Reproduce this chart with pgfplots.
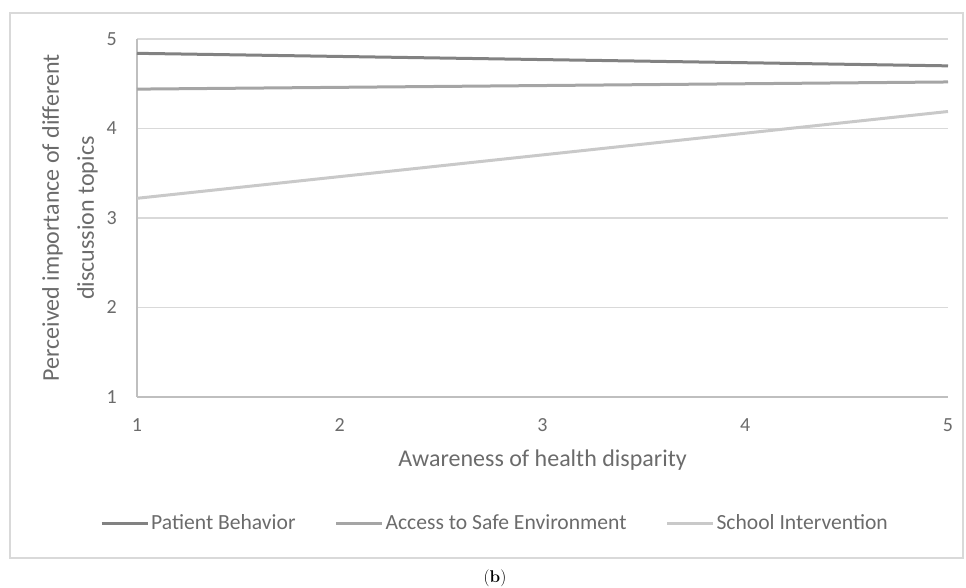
\documentclass[border=0pt]{standalone}
\usepackage{fontspec}
\setmainfont{Carlito}
\newfontfamily\capfont{Latin Modern Roman}
\usepackage{pgfplots}
\pgfplotsset{compat=1.18}
\definecolor{txtc}{HTML}{6B6B6B}
\definecolor{gridc}{HTML}{D9D9D9}
\definecolor{axlc}{HTML}{BFBFBF}
\definecolor{cA}{HTML}{828282}
\definecolor{cB}{HTML}{A5A5A5}
\definecolor{cC}{HTML}{C9C9C9}
\newcommand\tickfont{\fontsize{20bp}{24bp}\selectfont}
\begin{document}
\begin{tikzpicture}
\useasboundingbox (0bp,0bp) rectangle (966bp,588bp);
\draw[gridc, line width=1.5bp] (10bp,30bp) rectangle (963bp,575bp);
\begin{axis}[
  at={(137bp,191bp)}, anchor=south west,
  scale only axis, width=811bp, height=358bp,
  xmin=1, xmax=5, ymin=1, ymax=5,
  xtick={1,2,3,4,5}, ytick={1,2,3,4,5},
  xticklabel={\tickfont\pgfmathprintnumber[assume math mode=true]{\tick}},
  yticklabel={\tickfont\pgfmathprintnumber[assume math mode=true]{\tick}},
  major tick length=0pt,
  axis x line*=bottom, axis y line*=left,
  axis line style={axlc, line width=2bp, -},
  ymajorgrids, grid style={gridc, line width=1.5bp},
  tick label style={text=txtc, font=\tickfont},
  yticklabel style={anchor=east, inner sep=0pt, xshift=-20bp},
  xticklabel style={anchor=center, inner sep=0pt, yshift=-28bp},
  xlabel={Awareness of health disparity},
  ylabel={Perceived importance of different\\discussion topics},
  label style={font=\fontsize{24bp}{35bp}\selectfont, text=txtc},
  xlabel style={at={(axis description cs:0.5,0)}, anchor=center, yshift=-63bp},
  ylabel style={at={(axis description cs:0,0.5)}, anchor=center, yshift=67bp, align=center},
  legend columns=3,
  legend style={at={(axis description cs:-0.0456,-0.352)}, anchor=west, draw=none, fill=none,
    font=\fontsize{21.6bp}{25bp}\selectfont, text=txtc, inner sep=0pt,
    nodes={inner sep=2bp},
    /tikz/every even column/.append style={column sep=37bp}},
  legend image code/.code={\draw[#1, line width=3bp] (0bp,0bp) -- (46bp,0bp);},
  clip=false,
]
\addplot[cA, line width=3bp] coordinates {(1,4.84) (5,4.70)};
\addlegendentry{Patient Behavior}
\addplot[cB, line width=3bp] coordinates {(1,4.44) (5,4.52)};
\addlegendentry{Access to Safe Environment}
\addplot[cC, line width=3bp] coordinates {(1,3.22) (5,4.19)};
\addlegendentry{School Intervention}
\end{axis}
\node[font=\capfont\fontsize{17bp}{20bp}\selectfont] at (495bp,10bp) {(\textbf{b})};
\end{tikzpicture}
\end{document}
